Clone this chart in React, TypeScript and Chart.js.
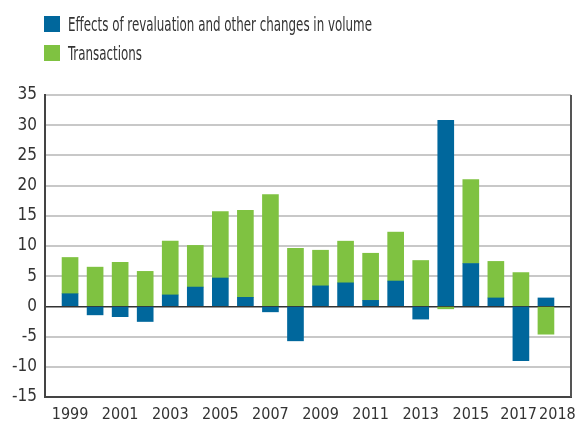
import React, { useEffect, useRef } from "react";
import { Chart, registerables } from "chart.js";

Chart.register(...registerables);

const years = ["1999","2000","2001","2002","2003","2004","2005","2006","2007","2008","2009","2010","2011","2012","2013","2014","2015","2016","2017","2018"];
const revaluation = [2.1, -1.4, -1.7, -2.5, 1.9, 3.2, 4.7, 1.5, -0.9, -5.7, 3.4, 3.9, 1.0, 4.2, -2.1, 30.8, 7.1, 1.4, -9.0, 1.4];
const transactions = [6.0, 6.5, 7.3, 5.8, 8.9, 6.9, 11.0, 14.4, 18.5, 9.6, 5.9, 6.9, 7.8, 8.1, 7.6, -0.4, 13.9, 6.05, 5.6, -4.6];
const shownYearLabels = ["1999","2001","2003","2005","2007","2009","2011","2013","2015","2017","2018"];
const seriesNames = ["Effects of revaluation and other changes in volume", "Transactions"];
const yMin = -15;
const yMax = 35;
const yStep = 5;

const BLUE = "#00679c";
const GREEN = "#7fc241";
const FONT = '"DejaVu Sans Condensed", "DejaVu Sans", sans-serif';

export default function App() {
  const ref = useRef<HTMLCanvasElement | null>(null);

  useEffect(() => {
    if (!ref.current) return;
    const labels = ["", ...years, ""];
    const pad = (arr: number[]) => [null, ...arr, null];
    const rightBorder = {
      id: "rightBorder",
      afterDraw(chart: any) {
        const { ctx, chartArea } = chart;
        ctx.save();
        ctx.strokeStyle = "#555";
        ctx.lineWidth = 2;
        ctx.beginPath();
        ctx.moveTo(chartArea.right, chartArea.top);
        ctx.lineTo(chartArea.right, chartArea.bottom);
        ctx.stroke();
        ctx.restore();
      },
    };
    const chart = new Chart(ref.current, {
      type: "bar",
      data: {
        labels,
        datasets: [
          { label: seriesNames[0], data: pad(revaluation), backgroundColor: BLUE, barThickness: 16 },
          { label: seriesNames[1], data: pad(transactions), backgroundColor: GREEN, barThickness: 16 },
        ],
      },
      options: {
        responsive: false,
        animation: false,
        layout: { padding: { top: 95, right: 5, left: 0, bottom: 0 } },
        plugins: { legend: { display: false }, tooltip: { enabled: false } },
        scales: {
          x: {
            stacked: true,
            offset: false,
            grid: { display: false, drawTicks: false },
            border: { display: true, color: "#444", width: 2 },
            ticks: {
              autoSkip: false,
              maxRotation: 0,
              padding: 8,
              color: "#333",
              font: { family: FONT, size: 16 },
              callback: (_v: any, i: number) => {
                const l = labels[i];
                if (!shownYearLabels.includes(l)) return "";
                if (l === "2017") return l + " ";
                if (l === "2018") return "     " + l;
                return l;
              },
            },
            afterFit: (s: any) => { s.height = 26; },
          },
          y: {
            stacked: true,
            min: yMin,
            max: yMax,
            grid: {
              drawTicks: false,
              color: (c: any) => (c.tick && c.tick.value === 0 ? "#333" : "#c8c8c8"),
              lineWidth: (c: any) => (c.tick && c.tick.value === 0 ? 1.5 : 2),
            },
            border: { display: true, color: "#444", width: 2 },
            ticks: {
              stepSize: yStep,
              padding: 8,
              color: "#333",
              font: { family: FONT, size: 17 },
            },
            afterFit: (s: any) => { s.width = 45; },
          },
        },
      },
      plugins: [rightBorder],
    } as any);
    return () => chart.destroy();
  }, []);

  const legendItem = (color: string, text: string, top: number) => (
    <div style={{ position: "absolute", left: 44, top, display: "flex", alignItems: "center", whiteSpace: "nowrap" }}>
      <div style={{ width: 16, height: 16, background: color, marginRight: 8 }} />
      <span
        style={{
          fontFamily: FONT,
          fontSize: 20,
          color: "#333",
          lineHeight: "20px",
          display: "inline-block",
          transform: "scaleX(0.66)",
          transformOrigin: "left center",
        }}
      >
        {text}
      </span>
    </div>
  );

  return (
    <div style={{ position: "fixed", left: 0, top: 0, width: 579, height: 423, background: "#fff", overflow: "hidden" }}>
      <canvas ref={ref} width={579} height={423} style={{ position: "absolute", left: 0, top: 0 }} />
      {legendItem(BLUE, seriesNames[0], 14)}
      {legendItem(GREEN, seriesNames[1], 43)}
    </div>
  );
}
